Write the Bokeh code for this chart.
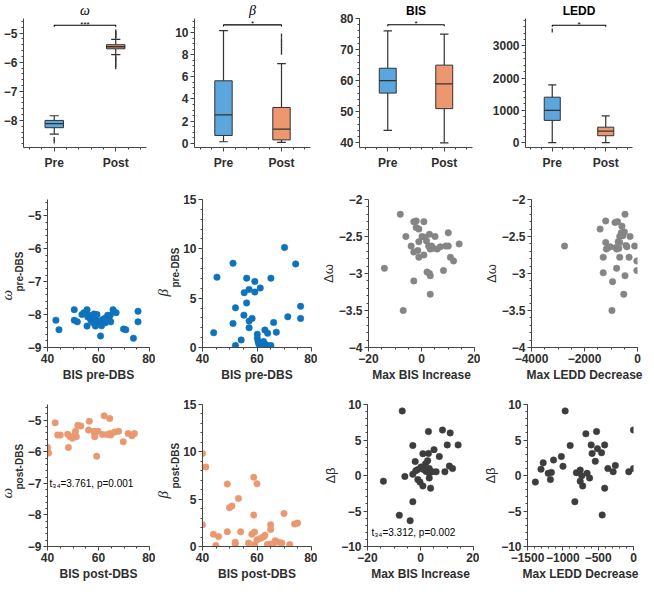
import numpy as np
from bokeh.plotting import figure
from bokeh.layouts import column, row
from bokeh.models import FixedTicker, Range1d, Title
from bokeh.embed import file_html
from bokeh.resources import INLINE

# ---------------- data ----------------
group_labels = ["Pre", "Post"]
group_pos = [1, 2]

omega_q1 = [-8.25, -5.54]
omega_med = [-8.11, -5.47]
omega_q3 = [-8.00, -5.40]
omega_whislo = [-8.47, -5.74]
omega_whishi = [-7.84, -5.22]
omega_out_pre = [-8.64, -8.72]
omega_out_post = [-4.95, -5.00, -5.05, -5.10, -5.16, -5.82, -5.88, -5.95, -6.02, -6.10, -6.17]

beta_q1 = [0.69, 0.29]
beta_med = [2.56, 1.27]
beta_q3 = [5.65, 3.23]
beta_whislo = [0.12, 0.06]
beta_whishi = [10.2, 7.2]
beta_out_pre = []
beta_out_post = [8.2, 8.5, 8.8, 9.1, 9.4, 9.75]

bis_q1 = [56.0, 51.0]
bis_med = [60.0, 59.0]
bis_q3 = [64.0, 65.0]
bis_whislo = [44.0, 40.0]
bis_whishi = [76.0, 75.0]
bis_out_pre = []
bis_out_post = []

ledd_q1 = [690, 215]
ledd_med = [1000, 360]
ledd_q3 = [1410, 480]
ledd_whislo = [0, 0]
ledd_whishi = [1790, 830]
ledd_out_pre = [3480]
ledd_out_post = []

sig_labels = ["***", "*", "*", "*"]
sig_levels = [-4.73, 10.72, 78.0, 3640]

# scatter: BIS pre vs omega pre
bis_pre_w = [43.3, 44.5, 50.5, 50.5, 51.7, 53.5, 54.3, 55.5, 55.5, 56.4, 57.0, 57.9, 58.6, 58.8, 59.4, 59.8,
             60.4, 60.8, 61.4, 62.4, 62.7, 63.2, 63.6, 64.2, 64.6, 64.8, 65.7, 66.9, 69.8, 70.7, 73.7, 75.5,
             75.5, 58.3, 61.2, 55.8]
omega_pre = [-8.17, -8.46, -7.85, -8.17, -8.22, -8.00, -7.94, -7.85, -8.35, -8.02, -8.17, -8.25, -8.12, -8.35,
             -8.00, -8.20, -8.22, -8.65, -8.16, -8.12, -8.25, -8.10, -8.02, -8.17, -8.02, -8.22, -7.85, -7.94,
             -8.44, -8.46, -8.72, -7.90, -8.22, -7.98, -8.34, -8.07]

# BIS pre vs beta pre
bis_pre_b = [44.1, 45.3, 51.2, 51.2, 52.1, 52.1, 54.2, 55.2, 55.3, 56.2, 56.2, 57.1, 57.1, 57.1, 58.2, 59.2,
             59.2, 60.1, 60.1, 60.4, 60.7, 61.2, 61.5, 62.4, 62.9, 62.9, 63.9, 63.9, 65.1, 65.1, 66.1, 67.1,
             70.1, 71.3, 74.2, 76.0, 76.0]
beta_pre = [1.50, 7.13, 8.54, 2.44, 4.02, 0.20, 0.77, 3.28, 5.56, 4.52, 7.03, 5.89, 2.68, 2.00, 2.95, 6.70,
            5.62, 1.34, 0.94, 0.60, 0.33, 6.03, 0.20, 0.60, 1.77, 0.33, 1.44, 0.20, 0.20, 7.03, 2.54, 1.54,
            10.14, 3.11, 8.47, 4.18, 2.95]

# Max BIS increase vs delta omega
bis_inc_w = [-14.0, -8.0, -6.9, -5.9, -3.9, -2.9, -2.9, -2.9, -2.0, -2.0, -1.4, -1.0, -1.0, -1.0, 0.9, 0.2,
             1.2, 0.9, 1.9, 2.1, 2.7, 3.0, 3.0, 3.3, 3.3, 3.3, 3.8, 4.5, 5.1, 5.9, 7.1, 8.3, 9.2, 10.1, 10.1,
             10.9, 12.1, 14.2]
d_omega_bis = [-2.93, -2.20, -3.50, -2.50, -2.63, -2.30, -2.71, -3.10, -2.29, -2.38, -2.69, -2.40, -2.78, -2.57,
               -2.30, -2.50, -2.51, -2.75, -2.56, -2.98, -2.63, -2.47, -3.00, -2.67, -3.03, -3.28, -2.63, -2.66,
               -2.50, -2.67, -2.64, -2.96, -2.63, -2.45, -2.63, -2.78, -2.83, -2.60]

# Max LEDD decrease vs delta omega
ledd_dec_w = [-2753, -1412, -1294, -1294, -1200, -1200, -1176, -1106, -1024, -941, -847, -812, -788, -753,
              -729, -706, -671, -671, -612, -588, -553, -518, -494, -471, -471, -435, -400, -318, -282, -106,
              -24, -24, -671, -788, -965]
d_omega_ledd = [-2.63, -2.40, -2.78, -2.99, -2.58, -2.29, -2.67, -2.65, -2.64, -3.11, -2.31, -2.65, -2.93, -2.30,
                -2.57, -2.66, -2.50, -2.78, -2.45, -2.36, -2.49, -3.28, -2.44, -2.20, -3.03, -2.62, -2.64, -2.78,
                -2.50, -2.63, -2.83, -2.96, -2.58, -2.67, -3.50]

# BIS post vs omega post
bis_post_w = [40.0, 40.0, 40.4, 43.0, 44.0, 45.0, 47.9, 48.2, 48.8, 49.8, 50.7, 51.0, 51.3, 51.9, 53.1, 56.4,
              56.1, 58.3, 58.5, 58.5, 59.3, 59.8, 61.6, 62.2, 63.4, 64.4, 64.6, 64.8, 66.4, 67.9, 69.7, 71.6,
              73.1, 74.1]
omega_post = [-5.86, -6.00, -6.04, -5.08, -5.47, -5.47, -5.44, -5.86, -5.52, -5.57, -5.45, -5.35, -5.52, -5.16,
              -5.18, -5.03, -5.31, -5.35, -5.42, -5.52, -6.14, -5.35, -5.45, -4.86, -5.45, -4.94, -5.42, -5.47,
              -5.37, -5.35, -5.68, -5.42, -5.49, -5.42]

# BIS post vs beta post
bis_post_b = [40.0, 40.0, 41.2, 44.0, 44.9, 45.9, 49.1, 49.1, 49.9, 50.8, 52.0, 52.0, 53.2, 54.0, 56.9, 58.1,
              58.8, 58.8, 59.1, 59.1, 60.0, 60.0, 61.4, 62.4, 62.9, 63.8, 65.0, 65.0, 65.0, 65.9, 66.7, 67.9,
              69.1, 69.9, 72.0, 73.8, 74.9]
beta_post = [9.82, 2.30, 8.40, 1.29, 0.10, 1.05, 6.60, 1.56, 4.10, 4.27, 0.27, 0.44, 5.08, 1.56, 0.37, 1.29,
             7.31, 3.32, 1.52, 0.20, 6.64, 0.71, 0.88, 1.02, 1.19, 0.20, 0.27, 2.30, 1.79, 0.27, 0.61, 0.44,
             0.37, 3.49, 0.20, 2.37, 2.47]

# Max BIS increase vs delta beta
bis_inc_b = [-14.0, -8.0, -6.9, -5.9, -3.9, -2.9, -2.9, -2.9, -2.0, -1.8, -1.0, -1.0, -0.2, 0.2, 0.9, 0.9,
             1.2, 1.9, 2.1, 2.7, 3.0, 3.0, 3.3, 3.3, 3.3, 3.8, 4.5, 5.1, 5.9, 7.1, 8.3, 9.2, 10.1, 10.9, 11.2,
             12.1, 14.2]
d_beta_bis = [-0.80, -5.60, 9.10, -0.13, -6.36, 4.22, -3.69, 0.18, 1.96, 0.67, 0.84, -0.58, -0.93, 1.20, -1.47,
              3.07, 0.84, 1.64, 0.58, 2.09, 3.11, 6.18, 0.98, 0.40, -0.36, -1.78, 0.53, 3.64, 0.53, 2.67, 6.40,
              0.53, 4.31, 1.33, 6.00, 0.98, 4.31]

# Max LEDD decrease vs delta beta
ledd_dec_b = [-1389, -1309, -1278, -1207, -1176, -1162, -1131, -1021, -998, -967, -896, -830, -808, -754, -754,
              -732, -719, -674, -657, -621, -599, -586, -541, -523, -510, -452, -443, -408, -408, -363, -288,
              -257, -67, 0, 0]
d_beta_ledd = [-0.93, 0.89, 1.78, 0.31, -0.58, 0.44, 2.18, 2.67, 1.29, 9.10, 4.22, -3.69, 0.40, 0.76, -0.80,
               -0.04, -1.47, 5.87, 0.31, -0.36, 4.31, 3.11, 2.00, 6.18, 3.78, 3.20, -5.56, -1.78, 4.31, 0.98,
               0.53, 1.42, 0.53, 0.98, 6.40]

stat_omega = "t\u2083\u2084=3.761, p=0.001"
stat_beta = "t\u2083\u2084=3.312, p=0.002"

# ---------------- style ----------------
AX = "#454545"
TXT = "#2e2e2e"
FONT = "Liberation Sans"
SERIF = "Liberation Serif"
PRE_FILL = "#5ba6dc"
POST_FILL = "#ec976f"
EDGE = "#333333"
BLUE = "#0f72bd"
ORANGE = "#ea9870"
GRAY = "#858585"
DARK = "#3d3d3d"


def base_fig(fw, fh, bl, br, bt, bb, xr, yr):
    p = figure(frame_width=fw, frame_height=fh, min_border_left=bl, min_border_right=br,
               min_border_top=bt, min_border_bottom=bb,
               x_range=Range1d(*xr), y_range=Range1d(*yr),
               output_backend="svg", toolbar_location=None)
    p.outline_line_color = None
    p.xgrid.visible = False
    p.ygrid.visible = False
    p.background_fill_color = "white"
    p.border_fill_color = "white"
    return p


def style_axes(p, xt, xminor, yt, yminor):
    p.xaxis.ticker = FixedTicker(ticks=xt, minor_ticks=xminor)
    p.yaxis.ticker = FixedTicker(ticks=yt, minor_ticks=yminor)
    for ax in (p.xaxis[0], p.yaxis[0]):
        ax.axis_line_color = AX
        ax.major_tick_line_color = AX
        ax.minor_tick_line_color = AX
        ax.major_tick_in = 0
        ax.major_tick_out = 4
        ax.minor_tick_in = 0
        ax.minor_tick_out = 2
        ax.major_label_text_font = FONT
        ax.major_label_text_font_style = "bold"
        ax.major_label_text_font_size = "12px"
        ax.major_label_text_color = TXT
        ax.major_label_standoff = 2


def xlabel(p, text):
    ax = p.xaxis[0]
    ax.axis_label = text
    ax.axis_label_text_font = FONT
    ax.axis_label_text_font_style = "bold"
    ax.axis_label_text_font_size = "12px"
    ax.axis_label_text_color = TXT
    ax.axis_label_standoff = 2


def sub_ylabel(p, main, sub, main_from_bottom, sub_from_bottom, main_standoff):
    # subscript sits next to the axis, main symbol further out;
    # align="left" anchors the text start at the bottom, offset moves it up
    p.add_layout(Title(text=sub, align="left", offset=sub_from_bottom, standoff=0,
                       text_font=FONT, text_font_style="bold", text_font_size="10px",
                       text_color=TXT), "left")
    p.add_layout(Title(text=main, align="left", offset=main_from_bottom, standoff=main_standoff,
                       text_font=SERIF, text_font_style="italic", text_font_size="15px",
                       text_color=TXT), "left")


def plain_ylabel(p, text):
    ax = p.yaxis[0]
    ax.axis_label = text
    ax.axis_label_text_font = FONT
    ax.axis_label_text_font_style = "normal"
    ax.axis_label_text_font_size = "13px"
    ax.axis_label_text_color = TXT
    ax.axis_label_standoff = 0


def box_panel(fw, bl, br, yr, yt, yminor, q1, med, q3, lo, hi, outs, title, title_italic, sig, sig_y):
    xr = (0.5, 2.5)
    p = base_fig(fw, 129, bl, br, 15, 36, xr, yr)
    style_axes(p, group_pos, [0.6, 0.8, 1.2, 1.4, 1.6, 1.8, 2.2, 2.4], yt, yminor)
    p.xaxis[0].major_label_overrides = {1: group_labels[0], 2: group_labels[1]}
    p.xaxis[0].major_label_standoff = 4
    bw = 0.3
    cw = 0.15
    p.segment(x0=group_pos, y0=q3, x1=group_pos, y1=hi, line_color=EDGE, line_width=1.2)
    p.segment(x0=group_pos, y0=lo, x1=group_pos, y1=q1, line_color=EDGE, line_width=1.2)
    p.segment(x0=[g - cw / 2 for g in group_pos], y0=hi, x1=[g + cw / 2 for g in group_pos], y1=hi,
              line_color=EDGE, line_width=1.2)
    p.segment(x0=[g - cw / 2 for g in group_pos], y0=lo, x1=[g + cw / 2 for g in group_pos], y1=lo,
              line_color=EDGE, line_width=1.2)
    p.vbar(x=group_pos, width=bw, bottom=q1, top=q3, fill_color=[PRE_FILL, POST_FILL],
           line_color=EDGE, line_width=1)
    p.segment(x0=[g - bw / 2 for g in group_pos], y0=med, x1=[g + bw / 2 for g in group_pos], y1=med,
              line_color=EDGE, line_width=1.3)
    for g, o in zip(group_pos, outs):
        if len(o):
            p.scatter(x=[g] * len(o), y=o, marker="dash", angle=np.pi / 2, size=4,
                      line_color=EDGE, line_width=1.3)
    # significance bracket
    tl = 0.012 * (yr[1] - yr[0])
    p.line(x=[group_pos[0], group_pos[0], group_pos[1], group_pos[1]],
           y=[sig_y - tl, sig_y, sig_y, sig_y - tl], line_color="black", line_width=1.1)
    p.text(x=[(group_pos[0] + group_pos[1]) / 2], y=[sig_y], text=[sig], text_font_size="8px",
           text_align="center", text_baseline="alphabetic", y_offset=-1, text_color="black",
           text_font={"value": FONT})
    p.title.text = title
    p.title.align = "center"
    p.title.standoff = 1
    p.title.text_color = "black"
    if title_italic:
        p.title.text_font = SERIF
        p.title.text_font_style = "italic"
        p.title.text_font_size = "14px"
    else:
        p.title.text_font = FONT
        p.title.text_font_style = "bold"
        p.title.text_font_size = "12px"
    return p


def scatter_panel(fw, fh, bl, br, bt, bb, xr, yr, xt, xminor, yt, yminor, xs, ys, color):
    p = base_fig(fw, fh, bl, br, bt, bb, xr, yr)
    style_axes(p, xt, xminor, yt, yminor)
    p.scatter(x=xs, y=ys, size=6.5, fill_color=color, line_color=color, line_width=0.5)
    return p


# ---------------- row 1: boxplots ----------------
b1 = box_panel(123, 19, 5, (-8.93, -4.5), [-8, -7, -6, -5], list(np.arange(-8.8, -4.5, 0.2)),
               omega_q1, omega_med, omega_q3, omega_whislo, omega_whishi,
               [omega_out_pre, omega_out_post], "\u03c9", True, sig_labels[0], sig_levels[0])
b2 = box_panel(116, 43, 5, (-0.4, 11.3), [0, 2, 4, 6, 8, 10], list(np.arange(0, 11.3, 0.5)),
               beta_q1, beta_med, beta_q3, beta_whislo, beta_whishi,
               [beta_out_pre, beta_out_post], "\u03b2", True, sig_labels[1], sig_levels[1])
b3 = box_panel(113, 44, 5, (38.5, 80.0), [40, 50, 60, 70, 80], list(np.arange(40, 80.1, 2)),
               bis_q1, bis_med, bis_q3, bis_whislo, bis_whishi,
               [bis_out_pre, bis_out_post], "BIS", False, sig_labels[2], sig_levels[2])
b4 = box_panel(107, 48, 5, (-150, 3850), [0, 1000, 2000, 3000], list(np.arange(0, 3850, 200)),
               ledd_q1, ledd_med, ledd_q3, ledd_whislo, ledd_whishi,
               [ledd_out_pre, ledd_out_post], "LEDD", False, sig_labels[3], sig_levels[3])

# ---------------- row 2 ----------------
R2 = dict(fh=148, bt=16, bb=48)
xr_bis = (40, 80)
bis_t = [40, 60, 80]
bis_minor = list(range(40, 81, 5))

yr_w = (-9, -4.5)
s1 = scatter_panel(102, R2["fh"], 40, 6, R2["bt"], R2["bb"], xr_bis, yr_w, bis_t, bis_minor,
                   [-9, -8, -7, -6, -5], list(np.arange(-9, -4.5, 0.2)), bis_pre_w, omega_pre, BLUE)
xlabel(s1, "BIS pre-DBS")
sub_ylabel(s1, "\u03c9", "pre-DBS", 47, 56, -7)

yr_b = (0, 15)
s2 = scatter_panel(109, R2["fh"], 47, 6, R2["bt"], R2["bb"], xr_bis, yr_b, bis_t, bis_minor,
                   [0, 5, 10, 15], list(range(0, 16)), bis_pre_b, beta_pre, BLUE)
xlabel(s2, "BIS pre-DBS")
sub_ylabel(s2, "\u03b2", "pre-DBS", 51, 60, -7)

xr_inc = (-20, 20)
yr_dw = (-4, -2)
s3 = scatter_panel(106, R2["fh"], 50, 6, R2["bt"], R2["bb"], xr_inc, yr_dw, [-20, 0, 20],
                   list(range(-20, 21, 5)), [-4, -3.5, -3, -2.5, -2], list(np.arange(-4, -1.95, 0.1)),
                   bis_inc_w, d_omega_bis, GRAY)
xlabel(s3, "Max BIS Increase")
plain_ylabel(s3, "\u0394\u03c9")

xr_ledd_w = (-4000, 0)
s4 = scatter_panel(106, R2["fh"], 48, 6, R2["bt"], R2["bb"], xr_ledd_w, yr_dw, [-4000, -2000, 0],
                   list(range(-4000, 1, 500)), [-4, -3.5, -3, -2.5, -2], list(np.arange(-4, -1.95, 0.1)),
                   ledd_dec_w, d_omega_ledd, GRAY)
xlabel(s4, "Max LEDD Decrease")
plain_ylabel(s4, "\u0394\u03c9")

# ---------------- row 3 ----------------
R3 = dict(fh=142, bt=9, bb=37)
t1 = scatter_panel(102, R3["fh"], 40, 6, R3["bt"], R3["bb"], xr_bis, yr_w, bis_t, bis_minor,
                   [-9, -8, -7, -6, -5], list(np.arange(-9, -4.5, 0.2)), bis_post_w, omega_post, ORANGE)
xlabel(t1, "BIS post-DBS")
sub_ylabel(t1, "\u03c9", "post-DBS", 48, 57, -7)
t1.text(x=[40.8], y=[-7.0], text=[stat_omega], text_font_size="10px", text_align="left",
        text_baseline="middle", text_color="black", text_font={"value": FONT})

t2 = scatter_panel(109, R3["fh"], 47, 6, R3["bt"], R3["bb"], xr_bis, yr_b, bis_t, bis_minor,
                   [0, 5, 10, 15], list(range(0, 16)), bis_post_b, beta_post, ORANGE)
xlabel(t2, "BIS post-DBS")
sub_ylabel(t2, "\u03b2", "post-DBS", 48, 58, -7)

yr_db = (-10, 10)
t3 = scatter_panel(106, R3["fh"], 50, 6, R3["bt"], R3["bb"], xr_inc, yr_db, [-20, 0, 20],
                   list(range(-20, 21, 5)), [-10, -5, 0, 5, 10], list(range(-10, 11)),
                   bis_inc_b, d_beta_bis, DARK)
xlabel(t3, "Max BIS Increase")
plain_ylabel(t3, "\u0394\u03b2")
t3.text(x=[-18.5], y=[-8.0], text=[stat_beta], text_font_size="10px", text_align="left",
        text_baseline="middle", text_color="black", text_font={"value": FONT})

xr_ledd_b = (-1500, 0)
t4 = scatter_panel(106, R3["fh"], 48, 6, R3["bt"], R3["bb"], xr_ledd_b, yr_db, [-1500, -1000, -500, 0],
                   list(range(-1500, 1, 100)), [-10, -5, 0, 5, 10], list(range(-10, 11)),
                   ledd_dec_b, d_beta_ledd, DARK)
xlabel(t4, "Max LEDD Decrease")
plain_ylabel(t4, "\u0394\u03b2")

layout = column(row(b1, b2, b3, b4, spacing=0),
                row(s1, s2, s3, s4, spacing=0),
                row(t1, t2, t3, t4, spacing=0), spacing=0)

open("out.html", "w").write(file_html(layout, INLINE, "chart"))
